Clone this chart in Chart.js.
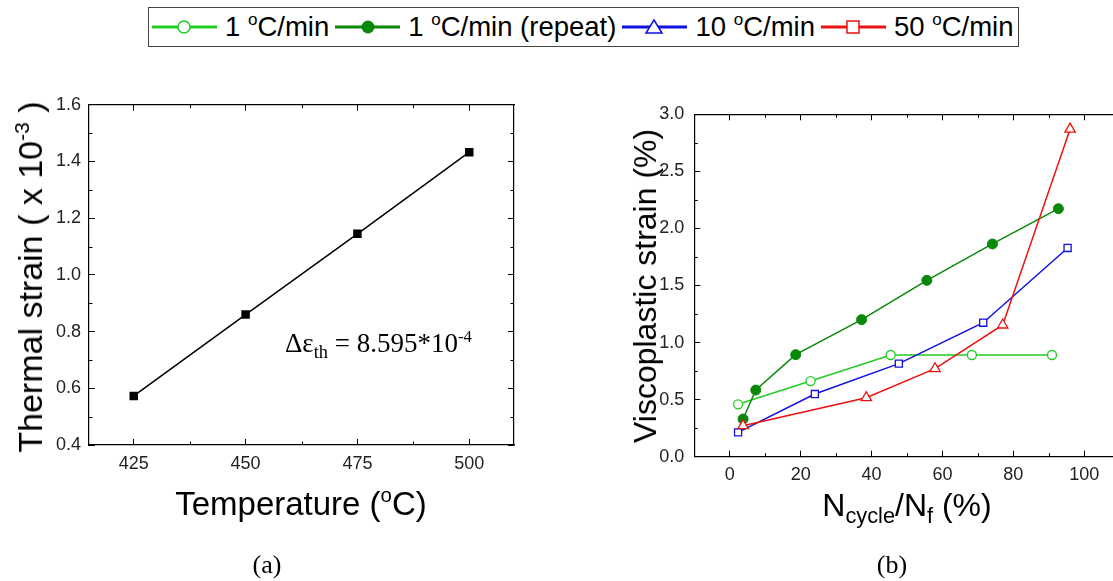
<!DOCTYPE html>
<html>
<head>
<meta charset="utf-8">
<script src="https://cdn.jsdelivr.net/npm/chart.js@4.4.1/dist/chart.umd.min.js"></script>
<style>
  html, body { margin: 0; padding: 0; background: #fff; overflow: hidden; }
  body { width: 1113px; height: 581px; position: relative; }
  .t { position: absolute; font-family: 'Liberation Sans', Arial, sans-serif; color: #000; white-space: nowrap; line-height: 1; }
  .serif { font-family: 'Liberation Serif', 'Times New Roman', serif; }
  .c { transform: translate(-50%, -50%); }
  .rot { transform: translate(-50%, -50%) rotate(-90deg); }
  .sup { font-size: 0.62em; position: relative; top: -0.62em; }
  .sub { font-size: 0.68em; position: relative; top: 0.3em; }
  #legend { position: absolute; left: 148px; top: 7px; width: 866px; height: 38px; border: 1.5px solid #444;
            display: flex; align-items: center; padding-left: 3px; box-sizing: content-box;
            font-family: 'Liberation Sans', Arial, sans-serif; font-size: 27.5px; color: #000; }
  #legend svg { flex: none; margin-right: 8px; }
  #legend span.lab { margin-right: 6px; white-space: nowrap; }
  #wrapB { position: absolute; left: 590px; top: 80px; width: 523px; height: 500px; overflow: hidden; }
</style>
</head>
<body>
<div id="legend">
  <svg width="65" height="20"><line x1="0" y1="10" x2="65" y2="10" stroke="#22cc22" stroke-width="3"/><circle cx="32" cy="10" r="6" fill="#fff" stroke="#22cc22" stroke-width="1.5"/></svg>
  <span class="lab">1 <span class="sup">o</span>C/min</span>
  <svg width="65" height="20"><line x1="0" y1="10" x2="65" y2="10" stroke="#0a880a" stroke-width="3"/><circle cx="33" cy="10" r="6.5" fill="#0a880a"/></svg>
  <span class="lab">1 <span class="sup">o</span>C/min (repeat)</span>
  <svg width="65" height="20"><line x1="0" y1="10" x2="65" y2="10" stroke="#1010e0" stroke-width="3"/><polygon points="32,3 40,16 24,16" fill="#fff" stroke="#1010e0" stroke-width="1.5"/></svg>
  <span class="lab">10 <span class="sup">o</span>C/min</span>
  <svg width="65" height="20"><line x1="0" y1="10" x2="65" y2="10" stroke="#ee1111" stroke-width="3"/><rect x="26" y="4" width="12" height="12" fill="#fff" stroke="#ee1111" stroke-width="1.5"/></svg>
  <span class="lab">50 <span class="sup">o</span>C/min</span>
</div>

<canvas id="chartA" width="540" height="500" style="position:absolute;left:0;top:80px;"></canvas>
<div id="wrapB"><canvas id="chartB" width="560" height="500"></canvas></div>

<div class="t rot" style="left:30px;top:277px;font-size:34px;">Thermal strain ( x 10<span class="sup">-3</span> )</div>
<div class="t c" style="left:301px;top:503px;font-size:33px;">Temperature (<span class="sup">o</span>C)</div>
<div class="t serif" style="left:285px;top:330px;font-size:27px;">&Delta;&epsilon;<span class="sub">th</span> = 8.595*10<span class="sup">-4</span></div>
<div class="t serif c" style="left:267px;top:565px;font-size:26px;">(a)</div>

<div class="t rot" style="left:645px;top:286px;font-size:32px;">Viscoplastic strain (%)</div>
<div class="t c" style="left:907px;top:505px;font-size:32px;">N<span class="sub">cycle</span>/N<span class="sub">f</span> (%)</div>
<div class="t serif c" style="left:892px;top:565px;font-size:26px;">(b)</div>

<script>
// (a) thermal strain vs temperature
const tempA = [425, 450, 475, 500];
const strainA = [0.573, 0.86, 1.145, 1.433];
const xTicksA = [425, 450, 475, 500];
const xMinorA = [437.5, 462.5, 487.5];
const yTicksA = [0.4, 0.6, 0.8, 1.0, 1.2, 1.4, 1.6];
const yMinorA = [0.5, 0.7, 0.9, 1.1, 1.3, 1.5];

// (b) viscoplastic strain vs life fraction
const cycle1 = [2.35, 22.8, 45.4, 68.3, 90.9];
const vp1 = [0.459, 0.663, 0.891, 0.891, 0.891];
const cycle1r = [3.76, 7.34, 18.6, 37.2, 55.6, 74.1, 92.7];
const vp1r = [0.330, 0.584, 0.894, 1.201, 1.545, 1.864, 2.173];
const cycle10 = [2.35, 24.0, 47.7, 71.5, 95.3];
const vp10 = [0.213, 0.549, 0.815, 1.174, 1.829];
const cycle50 = [3.76, 38.5, 57.9, 77.0, 96.0];
const vp50 = [0.272, 0.517, 0.771, 1.154, 2.87];
const xTicksB = [0, 20, 40, 60, 80, 100];
const xMinorB = [-10, 10, 30, 50, 70, 90, 110];
const yTicksB = [0, 0.5, 1.0, 1.5, 2.0, 2.5, 3.0];
const yMinorB = [0.25, 0.75, 1.25, 1.75, 2.25, 2.75];

const tickFont = { family: "'Liberation Sans', Arial, sans-serif", size: 18 };

function pts(xs, ys) {
  return xs.map((x, i) => ({ x: x, y: ys[i] }));
}

// short inward ticks between the labelled ones
const minorTicks = {
  id: 'minorTicks',
  afterDraw(chart, args, opts) {
    const ctx = chart.ctx, a = chart.chartArea, len = 3.5;
    ctx.save();
    ctx.strokeStyle = '#000';
    ctx.lineWidth = 1;
    ctx.beginPath();
    (opts.x || []).forEach(v => {
      const px = Math.round(chart.scales.x.getPixelForValue(v)) + 0.5;
      ctx.moveTo(px, a.bottom); ctx.lineTo(px, a.bottom - len);
      ctx.moveTo(px, a.top); ctx.lineTo(px, a.top + len);
    });
    (opts.y || []).forEach(v => {
      const py = Math.round(chart.scales.y.getPixelForValue(v)) + 0.5;
      ctx.moveTo(a.left, py); ctx.lineTo(a.left + len, py);
      ctx.moveTo(a.right, py); ctx.lineTo(a.right - len, py);
    });
    ctx.stroke();
    ctx.restore();
  }
};

function axis(dir, pos, min, max, ticks, size, showLabels, pad, fmt) {
  return {
    type: 'linear', axis: dir, position: pos, min: min, max: max,
    afterBuildTicks: s => { s.ticks = ticks.map(v => ({ value: v })); },
    afterFit: s => { if (dir === 'x') s.height = size; else s.width = size; },
    ticks: { display: showLabels, font: tickFont, color: '#222', padding: pad, maxRotation: 0, autoSkip: false, callback: fmt },
    grid: { drawOnChartArea: false, drawTicks: true, tickLength: -6, tickColor: '#000', tickWidth: 1 },
    border: { display: true, color: '#000', width: 1.2 }
  };
}

new Chart(document.getElementById('chartA'), {
  type: 'scatter',
  data: {
    datasets: [{
      data: pts(tempA, strainA),
      showLine: true,
      borderColor: '#000', borderWidth: 1.5,
      pointStyle: 'rect', pointRadius: 6, pointBackgroundColor: '#000', pointBorderColor: '#000', pointBorderWidth: 0
    }]
  },
  options: {
    responsive: false, animation: false, devicePixelRatio: 1,
    layout: { padding: { top: 22.7, right: 26, left: 0, bottom: 0 } },
    plugins: { legend: { display: false }, tooltip: { enabled: false }, minorTicks: { x: xMinorA, y: yMinorA } },
    scales: {
      x: axis('x', 'bottom', 415, 510, xTicksA, 135, true, 14, v => v),
      x2: axis('x', 'top', 415, 510, xTicksA, 0, false, 0),
      y: axis('y', 'left', 0.4, 1.6, yTicksA, 89, true, 14, v => v.toFixed(1)),
      y2: axis('y', 'right', 0.4, 1.6, yTicksA, 0, false, 0)
    }
  },
  plugins: [minorTicks]
});

new Chart(document.getElementById('chartB'), {
  type: 'scatter',
  data: {
    datasets: [
      { data: pts(cycle1, vp1), showLine: true, order: 3, borderColor: '#22cc22', borderWidth: 1.5,
        pointStyle: 'circle', pointRadius: 4.5, pointBackgroundColor: '#fff', pointBorderColor: '#22cc22', pointBorderWidth: 1.3 },
      { data: pts(cycle1r, vp1r), showLine: true, order: 2, borderColor: '#0a880a', borderWidth: 1.5,
        pointStyle: 'circle', pointRadius: 5, pointBackgroundColor: '#0a880a', pointBorderColor: '#0a880a', pointBorderWidth: 1 },
      { data: pts(cycle10, vp10), showLine: true, order: 1, borderColor: '#1010e0', borderWidth: 1.5,
        pointStyle: 'rect', pointRadius: 5, pointBackgroundColor: '#fff', pointBorderColor: '#1010e0', pointBorderWidth: 1.3 },
      { data: pts(cycle50, vp50), showLine: true, order: 0, borderColor: '#ee1111', borderWidth: 1.5,
        pointStyle: 'triangle', pointRadius: 6, pointBackgroundColor: '#fff', pointBorderColor: '#ee1111', pointBorderWidth: 1.3 }
    ]
  },
  options: {
    responsive: false, animation: false, devicePixelRatio: 1,
    layout: { padding: { top: 34.3, right: 30.3, left: 0, bottom: 0 } },
    plugins: { legend: { display: false }, tooltip: { enabled: false }, minorTicks: { x: xMinorB, y: yMinorB } },
    scales: {
      x: axis('x', 'bottom', -10, 110, xTicksB, 123.3, true, 14, v => v),
      x2: axis('x', 'top', -10, 110, xTicksB, 0, false, 0),
      y: axis('y', 'left', 0, 3.0, yTicksB, 104.3, true, 16, v => v.toFixed(1)),
      y2: axis('y', 'right', 0, 3.0, yTicksB, 0, false, 0)
    }
  },
  plugins: [minorTicks]
});
</script>
</body>
</html>
